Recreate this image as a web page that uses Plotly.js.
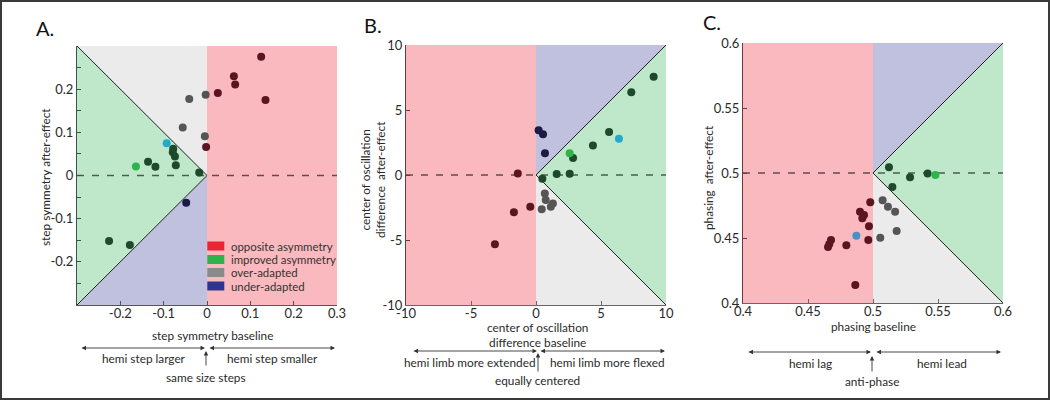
<!DOCTYPE html>
<html>
<head>
<meta charset="utf-8">
<script src="https://cdn.plot.ly/plotly-3.0.1.min.js"></script>
<style>html,body{margin:0;padding:0;background:#fff;}#chart{width:1050px;height:400px;}</style>
</head>
<body>
<div id="chart"></div>
<script>
// ---------- DATA ----------
// Panel A: step symmetry (baseline x, after-effect y)
const aRangeX = [-0.3, 0.3];
const aRangeY = [-0.3, 0.3];
const aCenter = 0;
const aRedX   = [0.025, 0.062, 0.065, 0.125, 0.135, -0.002];
const aRedY   = [0.191, 0.230, 0.211, 0.275, 0.175, 0.066];
const aGrayX  = [-0.041, -0.003, -0.056, -0.005];
const aGrayY  = [0.177, 0.187, 0.111, 0.091];
const aDkGreenX = [-0.136, -0.119, -0.078, -0.079, -0.074, -0.072, -0.018, -0.226, -0.178];
const aDkGreenY = [0.032, 0.020, 0.062, 0.054, 0.044, 0.024, 0.007, -0.152, -0.161];
const aGreenX = [-0.164];
const aGreenY = [0.021];
const aCyanX  = [-0.093];
const aCyanY  = [0.075];
const aNavyX  = [-0.048];
const aNavyY  = [-0.063];
const aTickX  = [-0.3, -0.2, -0.1, 0, 0.1, 0.2, 0.3];
const aTickXText = ['', '-0.2', '-0.1', '0', '0.1', '0.2', '0.3'];
const aTickY  = [-0.3, -0.25, -0.2, -0.15, -0.1, -0.05, 0, 0.05, 0.1, 0.15, 0.2, 0.25, 0.3];
const aTickYText = ['', '', '-0.2', '', '-0.1', '', '0', '', '0.1', '', '0.2', '', ''];

// Panel B: center of oscillation difference
const bRangeX = [-10, 10];
const bRangeY = [-10, 10];
const bCenter = 0;
const bRedX   = [-1.4, -0.44, -1.7, -3.16];
const bRedY   = [0.12, -2.45, -2.86, -5.32];
const bGrayX  = [0.68, 0.75, 1.3, 1.14, 0.44];
const bGrayY  = [-1.43, -1.92, -2.2, -2.44, -2.64];
const bDkGreenX = [9.05, 7.33, 5.62, 4.38, 2.85, 1.59, 2.59, 0.49];
const bDkGreenY = [7.56, 6.36, 3.31, 2.26, 1.31, 0.08, 0.10, -0.28];
const bGreenX = [2.59];
const bGreenY = [1.67];
const bCyanX  = [6.38];
const bCyanY  = [2.79];
const bNavyX  = [0.2, 0.54, 0.69];
const bNavyY  = [3.44, 3.13, 1.67];
const bTick   = [-10, -5, 0, 5, 10];

// Panel C: phasing
const cRangeX = [0.4, 0.6];
const cRangeY = [0.4, 0.6];
const cCenter = 0.5;
const cRedX   = [0.4979, 0.4900, 0.4931, 0.4918, 0.4969, 0.4964, 0.4795, 0.4677, 0.4664, 0.4654, 0.4864];
const cRedY   = [0.4775, 0.4702, 0.4677, 0.4651, 0.4590, 0.4485, 0.4444, 0.4485, 0.4454, 0.4431, 0.4138];
const cGrayX  = [0.5074, 0.5115, 0.5170, 0.5182, 0.5056];
const cGrayY  = [0.4790, 0.4741, 0.4702, 0.4554, 0.4502];
const cDkGreenX = [0.5123, 0.5285, 0.5420, 0.5149];
const cDkGreenY = [0.5044, 0.4967, 0.4997, 0.4892];
const cGreenX = [0.548];
const cGreenY = [0.4985];
const cBlueX  = [0.4872];
const cBlueY  = [0.4518];
const cTick   = [0.4, 0.45, 0.5, 0.55, 0.6];

const legendLabels = ['opposite asymmetry', 'improved asymmetry', 'over-adapted', 'under-adapted'];

// ---------- STYLE ----------
const FONT = 'Lato, "Liberation Sans", Arial, sans-serif';
const TXT = '#2a2a2a';
const C_RED_BG = '#f9b9be', C_GRAY_BG = '#ebebeb', C_GREEN_BG = '#bfe7c9', C_BLUE_BG = '#c0c1df';
const M_RED = '#5c1420', M_GRAY = '#555555', M_DKGREEN = '#1e4a2b', M_GREEN = '#2bb54b',
      M_CYAN = '#22aacc', M_NAVY = '#1c1a45', M_BLUE = '#4a90c8';
const LEG_COLORS = ['#ec2330', '#2db34a', '#8a8a8a', '#2b3590'];
const MS = 8;
const FS_TITLE = 11.8, FS_NOTE = 11.8, FS_LEG = 11.4;

const P = px => px / 1050;
const Q = py => 1 - py / 400;

const traces = [];
function region(xs, ys, color, xa, ya) {
  traces.push({x: xs, y: ys, xaxis: xa, yaxis: ya, type: 'scatter', mode: 'lines',
    fill: 'toself', fillcolor: color, line: {width: 0, color: color}, hoverinfo: 'skip', showlegend: false});
}
function line(xs, ys, xa, ya, dash, color, w) {
  traces.push({x: xs, y: ys, xaxis: xa, yaxis: ya, type: 'scatter', mode: 'lines',
    line: {color: color, width: w, dash: dash}, hoverinfo: 'skip', showlegend: false});
}
function pts(xs, ys, color, xa, ya) {
  traces.push({x: xs, y: ys, xaxis: xa, yaxis: ya, type: 'scatter', mode: 'markers',
    marker: {color: color, size: MS, line: {width: 0}}, showlegend: false, cliponaxis: false});
}

// Panel A regions (red on right, wedge opens left)
(function () {
  const [x0, x1] = aRangeX, [y0, y1] = aRangeY, c = aCenter;
  region([c, x1, x1, c], [y0, y0, y1, y1], C_RED_BG, 'x', 'y');
  region([x0, c, c], [y1, y1, c], C_GRAY_BG, 'x', 'y');
  region([x0, c, x0], [y1, c, y0], C_GREEN_BG, 'x', 'y');
  region([c, x0, c], [c, y0, y0], C_BLUE_BG, 'x', 'y');
  line([x0, c, x0], [y1, c, y0], 'x', 'y', 'solid', '#222', 1);
  line([x0, x1], [c, c], 'x', 'y', '7px,8px', 'rgba(0,0,0,0.6)', 1.3);
})();
// Panels B and C (red on left, wedge opens right)
function mirrored(xr, yr, c, xa, ya) {
  const [x0, x1] = xr, [y0, y1] = yr;
  region([x0, c, c, x0], [y0, y0, y1, y1], C_RED_BG, xa, ya);
  region([c, c, x1], [c, y1, y1], C_BLUE_BG, xa, ya);
  region([c, x1, x1], [c, y1, y0], C_GREEN_BG, xa, ya);
  region([c, x1, c], [c, y0, y0], C_GRAY_BG, xa, ya);
  line([x1, c, x1], [y1, c, y0], xa, ya, 'solid', '#222', 1);
  line([x0, x1], [c, c], xa, ya, '7px,8px', 'rgba(0,0,0,0.6)', 1.3);
}
mirrored(bRangeX, bRangeY, bCenter, 'x2', 'y2');
mirrored(cRangeX, cRangeY, cCenter, 'x3', 'y3');

pts(aRedX, aRedY, M_RED, 'x', 'y');
pts(aGrayX, aGrayY, M_GRAY, 'x', 'y');
pts(aDkGreenX, aDkGreenY, M_DKGREEN, 'x', 'y');
pts(aGreenX, aGreenY, M_GREEN, 'x', 'y');
pts(aCyanX, aCyanY, M_CYAN, 'x', 'y');
pts(aNavyX, aNavyY, M_NAVY, 'x', 'y');

pts(bRedX, bRedY, M_RED, 'x2', 'y2');
pts(bGrayX, bGrayY, M_GRAY, 'x2', 'y2');
pts(bDkGreenX, bDkGreenY, M_DKGREEN, 'x2', 'y2');
pts(bGreenX, bGreenY, M_GREEN, 'x2', 'y2');
pts(bCyanX, bCyanY, M_CYAN, 'x2', 'y2');
pts(bNavyX, bNavyY, M_NAVY, 'x2', 'y2');

pts(cRedX, cRedY, M_RED, 'x3', 'y3');
pts(cGrayX, cGrayY, M_GRAY, 'x3', 'y3');
pts(cDkGreenX, cDkGreenY, M_DKGREEN, 'x3', 'y3');
pts(cGreenX, cGreenY, M_GREEN, 'x3', 'y3');
pts(cBlueX, cBlueY, M_BLUE, 'x3', 'y3');

function axis(range, domain, vals, texts, lineColor, anchor, standoff) {
  return {range: range, domain: domain, anchor: anchor, tickmode: 'array', tickvals: vals,
    ticktext: texts || vals.map(String), ticks: 'inside', ticklen: 4, tickcolor: lineColor,
    showline: true, linecolor: lineColor, linewidth: 1, showgrid: false, zeroline: false,
    ticklabelstandoff: standoff || 0,
    tickfont: {family: FONT, size: 13, color: TXT}, fixedrange: true};
}

const ann = [];
function txt(text, x, y, opts) {
  ann.push(Object.assign({text: text, x: P(x), y: Q(y), xref: 'paper', yref: 'paper',
    showarrow: false, font: {family: FONT, size: FS_NOTE, color: TXT}, xanchor: 'center', yanchor: 'middle'}, opts || {}));
}
function dblArrow(xl, xr, y) {
  ann.push({text: '', x: P(xr), y: Q(y), xref: 'paper', yref: 'paper', ax: -(xr - xl), ay: 0,
    showarrow: true, arrowside: 'end+start', arrowhead: 2, arrowsize: 1, arrowwidth: 0.9,
    arrowcolor: '#333', standoff: 0, startstandoff: 0});
}
function upArrow(x, yHead, yTail) {
  ann.push({text: '', x: P(x), y: Q(yHead), xref: 'paper', yref: 'paper', ax: 0, ay: (yTail - yHead),
    showarrow: true, arrowhead: 2, arrowsize: 1, arrowwidth: 0.9, arrowcolor: '#333', standoff: 0});
}

const tf = {family: FONT, size: FS_TITLE, color: TXT};
// panel letters
txt('A.', 45, 28, {font: {family: FONT, size: 20, color: '#111'}});
txt('B.', 373, 25, {font: {family: FONT, size: 20, color: '#111'}});
txt('C.', 712, 22, {font: {family: FONT, size: 20, color: '#111'}});

// axis titles
txt('step symmetry after-effect', 45, 177, {textangle: -90, font: tf});
txt('center of oscillation<br>difference&nbsp; after-effect', 373, 180, {textangle: -90, font: tf});
txt('phasing&nbsp; after-effect', 708, 178, {textangle: -90, font: tf});
txt('step symmetry baseline', 212, 335, {font: tf});
txt('center of oscillation<br>difference baseline', 537, 335, {font: tf});
txt('phasing baseline', 873, 326, {font: tf});

// direction annotations
txt('hemi step larger', 144, 358);
txt('hemi step smaller', 272, 358);
txt('same size steps', 206, 377);
dblArrow(80, 205, 348); dblArrow(208, 335, 348); upArrow(206, 351, 367);

txt('hemi limb more extended', 469, 362);
txt('hemi limb more flexed', 607, 362);
txt('equally centered', 537, 380);
dblArrow(412, 537, 351); dblArrow(539, 665, 351); upArrow(538, 353, 373);

txt('hemi lag', 810, 363);
txt('hemi lead', 942, 363);
txt('anti-phase', 872, 381);
dblArrow(747, 871, 352); dblArrow(875, 1001, 352); upArrow(872, 356, 373);

// legend (panel A)
const shapes = [];
const legRows = [246, 259.5, 272.5, 286];
legendLabels.forEach((lab, i) => {
  shapes.push({type: 'rect', xref: 'paper', yref: 'paper', x0: P(207.3), x1: P(224.3),
    y0: Q(legRows[i] + 4.5), y1: Q(legRows[i] - 4.5), fillcolor: LEG_COLORS[i], line: {width: 0}});
  txt(lab, 229, legRows[i], {xanchor: 'left', font: {family: FONT, size: FS_LEG, color: '#333'}});
});
// frame
shapes.push({type: 'rect', xref: 'paper', yref: 'paper', x0: 0, x1: 1, y0: 0, y1: 1,
  line: {color: '#3a3a3a', width: 4}, fillcolor: 'rgba(0,0,0,0)'});

const layout = {
  width: 1050, height: 400, margin: {l: 0, r: 0, t: 0, b: 0},
  paper_bgcolor: '#fff', plot_bgcolor: 'rgba(0,0,0,0)', showlegend: false,
  xaxis:  axis(aRangeX, [P(77), P(337)], aTickX, aTickXText, '#555', 'y', -4),
  yaxis:  axis(aRangeY, [Q(305), Q(46)], aTickY, aTickYText, '#3f5246', 'x'),
  xaxis2: axis(bRangeX, [P(406), P(666)], bTick, null, '#666', 'y2', -4),
  yaxis2: axis(bRangeY, [Q(305), Q(45)], bTick, null, '#6a3a3f', 'x2'),
  xaxis3: axis(cRangeX, [P(743), P(1003)], cTick, null, '#666', 'y3', -4),
  yaxis3: axis(cRangeY, [Q(303), Q(43)], cTick, null, '#6a3a3f', 'x3'),
  annotations: ann, shapes: shapes, hovermode: false
};

Plotly.newPlot('chart', traces, layout, {staticPlot: true, displayModeBar: false});
</script>
</body>
</html>
